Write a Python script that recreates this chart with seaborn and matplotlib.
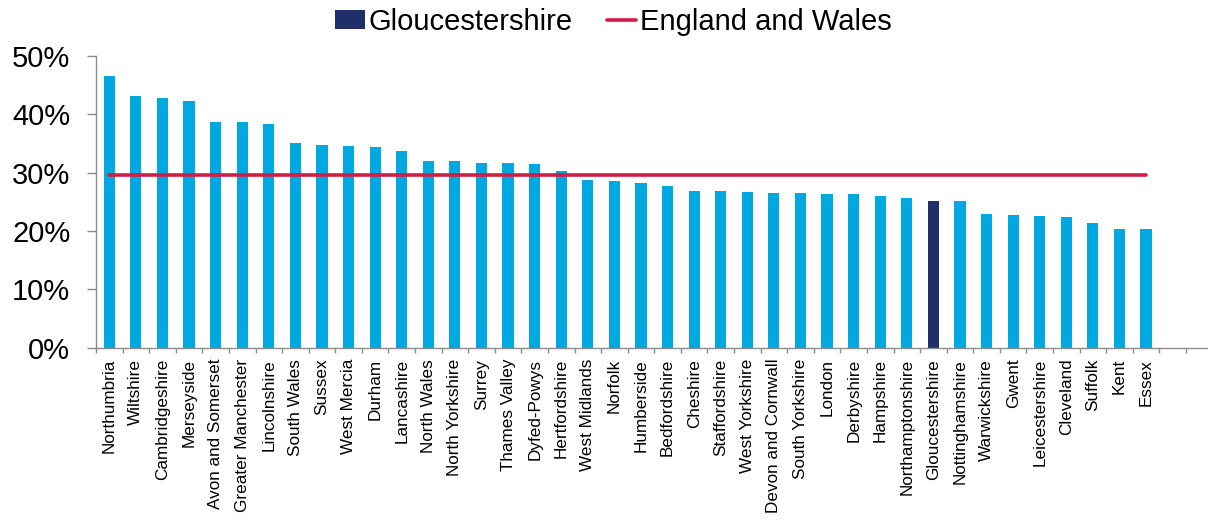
import numpy as np
import pandas as pd
import matplotlib
matplotlib.use("Agg")
import matplotlib.pyplot as plt
import seaborn as sns
from matplotlib.patches import Patch
from matplotlib.lines import Line2D
from matplotlib.ticker import PercentFormatter, FixedLocator

categories = ["Northumbria", "Wiltshire", "Cambridgeshire", "Merseyside", "Avon and Somerset",
              "Greater Manchester", "Lincolnshire", "South Wales", "Sussex", "West Mercia",
              "Durham", "Lancashire", "North Wales", "North Yorkshire", "Surrey",
              "Thames Valley", "Dyfed-Powys", "Hertfordshire", "West Midlands", "Norfolk",
              "Humberside", "Bedfordshire", "Cheshire", "Staffordshire", "West Yorkshire",
              "Devon and Cornwall", "South Yorkshire", "London", "Derbyshire", "Hampshire",
              "Northamptonshire", "Gloucestershire", "Nottinghamshire", "Warwickshire", "Gwent",
              "Leicestershire", "Cleveland", "Suffolk", "Kent", "Essex"]
values = [46.6, 43.1, 42.8, 42.2, 38.7, 38.7, 38.3, 35.0, 34.7, 34.5,
          34.3, 33.6, 31.9, 31.9, 31.7, 31.7, 31.5, 30.3, 28.8, 28.5,
          28.2, 27.7, 26.9, 26.9, 26.7, 26.5, 26.5, 26.3, 26.3, 26.0,
          25.6, 25.1, 25.1, 22.9, 22.7, 22.5, 22.3, 21.4, 20.4, 20.4]
england_wales = 29.6
highlight = "Gloucestershire"
y_ticks = [0, 10, 20, 30, 40, 50]

bar_color = "#00A8E1"
hl_color = "#1F3068"
line_color = "#D31C45"
axis_gray = "#8C8C8C"

sns.set_theme(style="white")
plt.rcParams["font.family"] = ["Liberation Sans", "DejaVu Sans"]
plt.rcParams["text.color"] = "black"

df = pd.DataFrame({"force": categories, "pct": np.array(values) / 100.0})
palette = {c: (hl_color if c == highlight else bar_color) for c in categories}

fig = plt.figure(figsize=(12.08, 5.20), dpi=100)
ax = fig.add_axes([96 / 1208, 1 - 347.7 / 520, 1 - 96 / 1208, (347.7 - 55.7) / 520])

sns.barplot(data=df, x="force", y="pct", hue="force", palette=palette, legend=False,
            width=0.42, ax=ax, saturation=1, linewidth=0)

n = len(categories)
sns.lineplot(x=np.arange(n), y=[england_wales / 100.0] * n, color=line_color, linewidth=2.6, ax=ax)

ax.set_ylim(0, 0.5)
ax.set_xlim(-0.5, n + 0.5 + 0.83)
ax.set_yticks([t / 100 for t in y_ticks])
ax.yaxis.set_major_formatter(PercentFormatter(1.0, decimals=0))
ax.set_xticks(np.arange(n))
ax.set_xticklabels(categories, rotation=90, fontsize=12.3)
ax.xaxis.set_minor_locator(FixedLocator(np.arange(-0.5, n + 1, 1.0)))
ax.tick_params(axis="x", which="major", length=0, pad=8, labelcolor="black")
ax.tick_params(axis="x", which="minor", length=3.8, width=1, color=axis_gray, direction="out", bottom=True)
ax.tick_params(axis="y", which="major", length=6.5, width=1, color=axis_gray, direction="out",
               left=True, labelsize=21, labelcolor="black", pad=12)
ax.set_xlabel("")
ax.set_ylabel("")
for s in ["top", "right"]:
    ax.spines[s].set_visible(False)
for s in ["left", "bottom"]:
    ax.spines[s].set_color(axis_gray)
    ax.spines[s].set_linewidth(1.0)

handles = [Patch(facecolor=hl_color, edgecolor="none", label="Gloucestershire"),
           Line2D([0], [0], color=line_color, linewidth=2.6, label="England and Wales")]
fig.legend(handles=handles, loc="center", bbox_to_anchor=(0.508, 0.958), ncol=2, frameon=False,
           fontsize=21, handlelength=1.0, handleheight=0.6, handletextpad=0.15, columnspacing=1.15,
           labelcolor="black")

fig.savefig("out.png", dpi=100)
